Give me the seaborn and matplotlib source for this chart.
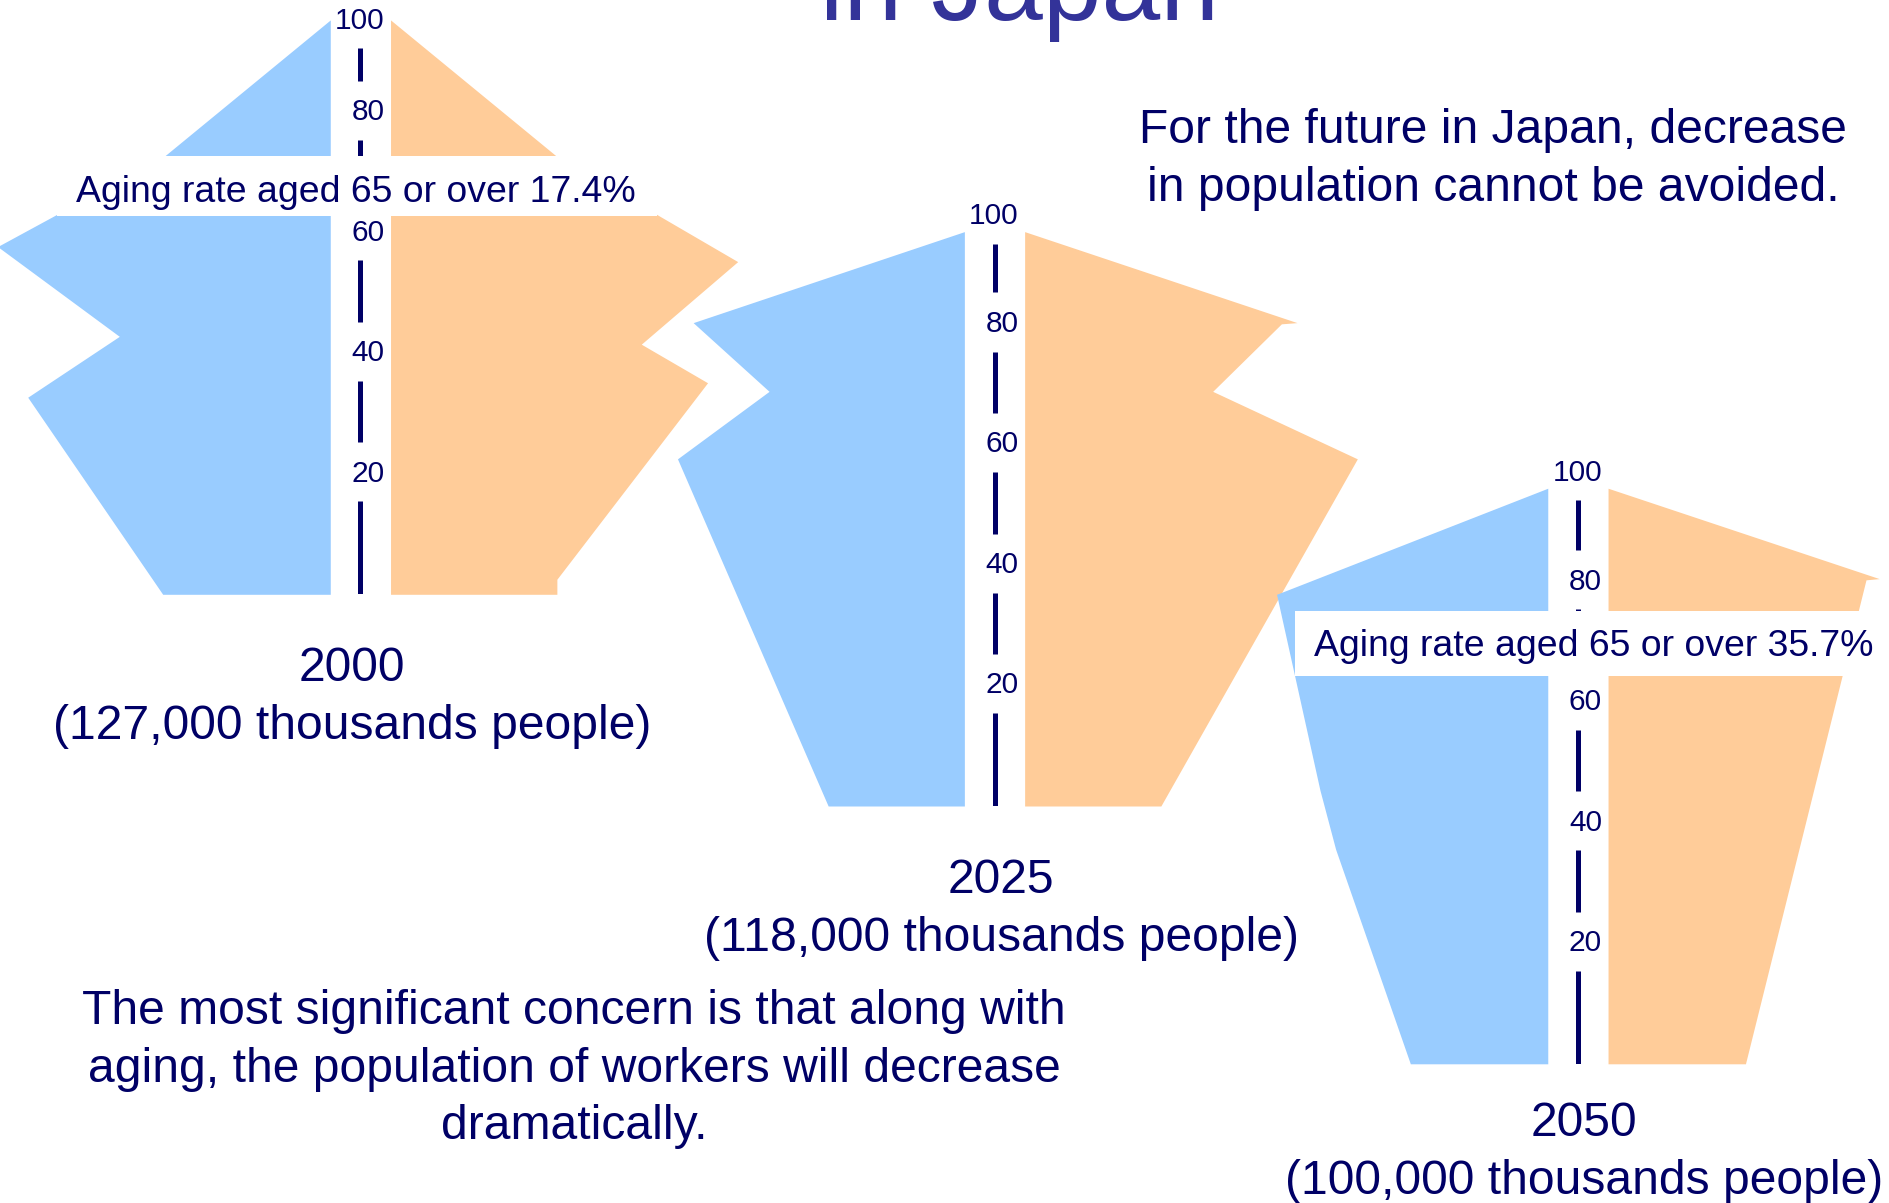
"""
Population pyramids of Japan (2000 / 2025 / 2050) - slide recreation
"""
import numpy as np
import pandas as pd
import seaborn as sns
import matplotlib.pyplot as plt
from matplotlib.patches import Rectangle

# ---- data ----
years = ["2000", "2025", "2050"]
totals = ["(127,000 thousands people)", "(118,000 thousands people)",
          "(100,000 thousands people)"]
aging_rates = ["17.4%", None, "35.7%"]

# age break points and bar length per side (chart units)
age_2000_m = [0, 32.7, 42.8, 57.7, 72.8, 95.3]
male_2000 = [139, 251, 175, 276, 137, 0]
age_2000_f = [0, 2.5, 35.1, 41.5, 55.2, 72.8, 95.3]
female_2000 = [138, 138, 263, 208, 288, 137, 0]

age_2025_m = [0, 57.6, 68.8, 80.2, 95.3]
male_2025 = [113, 238, 162, 225, 0]
age_2025_f = [0, 57.6, 68.8, 80.0, 80.2, 95.3]
female_2025 = [113, 276, 156, 213, 226, 0]

age_2050_m = [0, 35.6, 45.4, 77.9, 95.5]
male_2050 = [114, 176, 189, 225, 0]
age_2050_f = [0, 80.3, 80.5, 95.5]
female_2050 = [114, 214, 225, 0]

tick_ages = [20, 40, 60, 80]
tick_labels = ["20", "40", "60", "80"]
top_tick_age = [95.2, 97.9, 98.1]   # where the "100" label sits
top_tick_label = "100"

# ---- style ----
sns.set_theme(style="white")
plt.rcParams['font.family'] = ['Liberation Sans', 'DejaVu Sans']

MALE = '#99CCFF'
FEMALE = '#FFCC99'
NAVY = '#000066'
TITLE = '#333399'

W, H = 1890, 1203
SX, SY = 1.2054, 6.027          # pixels per chart unit / per year of age
GAP = 25                        # half gap between the two sides
XMAX = 350

pyr_center_px = [360.4, 994.5, 1577.9]
pyr_base_px = [594.3, 806.0, 1063.8]
box_rects = [(-251.5, 62.85, 497.4, 9.95), None, (-234.4, 64.4, 480.6, 10.8)]
box_text_xy = [(-3.4, 65.1), None, (12.9, 67.7)]

fig = plt.figure(figsize=(W / 100, H / 100), dpi=100)

pyramids = [
    (age_2000_m, male_2000, age_2000_f, female_2000),
    (age_2025_m, male_2025, age_2025_f, female_2025),
    (age_2050_m, male_2050, age_2050_f, female_2050),
]

for i, (am, m, af, f) in enumerate(pyramids):
    cx, by = pyr_center_px[i], pyr_base_px[i]
    ax = fig.add_axes([(cx - XMAX * SX) / W, (H - by) / H,
                       2 * XMAX * SX / W, 100 * SY / H])
    ax.set_facecolor('none')
    ax.set_xlim(-XMAX, XMAX)
    ax.set_ylim(0, 100)
    ax.axis('off')

    df_m = pd.DataFrame({'age': am, 'pop': m})
    df_f = pd.DataFrame({'age': af, 'pop': f})
    ax.fill_betweenx(df_m['age'], -GAP - df_m['pop'], -GAP,
                     color=MALE, lw=0, zorder=1)
    ax.fill_betweenx(df_f['age'], GAP, GAP + df_f['pop'],
                     color=FEMALE, lw=0, zorder=1)

    # age axis: a line broken by the labels
    ticks = tick_ages + [top_tick_age[i]]
    labels = tick_labels + [top_tick_label]
    below, above = 4.6, 5.2
    starts = [0] + [t + above for t in ticks[:-1]]
    ends = [t - below for t in ticks]
    ax.vlines(np.zeros(len(starts)), starts, ends, color=NAVY, lw=3.6, zorder=2)
    for t, lab in zip(ticks, labels):
        ax.text(20, t, lab, ha='right', va='center', fontsize=21.5,
                color=NAVY, zorder=3)

    if aging_rates[i] is not None:
        bx, byy, bw, bh = box_rects[i]
        ax.add_patch(Rectangle((bx, byy), bw, bh, facecolor='white',
                               edgecolor='none', zorder=4))
        tx, ty = box_text_xy[i]
        ax.text(tx, ty, f"Aging rate aged 65 or over {aging_rates[i]}",
                ha='center', va='baseline', fontsize=26.9, color=NAVY, zorder=5)


def ftext(x, y, s, size=34.6, color=NAVY):
    fig.text(x / W, 1 - y / H, s, ha='center', va='baseline',
             fontsize=size, color=color)


# title (cut off at the top of the slide, as in the original)
ftext(1020, 20, "in Japan", size=76, color=TITLE)

ftext(1493, 143, "For the future in Japan, decrease")
ftext(1493, 201, "in population cannot be avoided.")

year_xy = [(352, 681), (1001, 893), (1584, 1136)]
for (x, y), yr, tot in zip(year_xy, years, totals):
    ftext(x, y, yr)
    ftext(x, y + 58, tot)

ftext(574, 1024, "The most significant concern is that along with")
ftext(574, 1082, "aging, the population of workers will decrease")
ftext(574, 1139, "dramatically.")

plt.savefig('out.png', dpi=100)
